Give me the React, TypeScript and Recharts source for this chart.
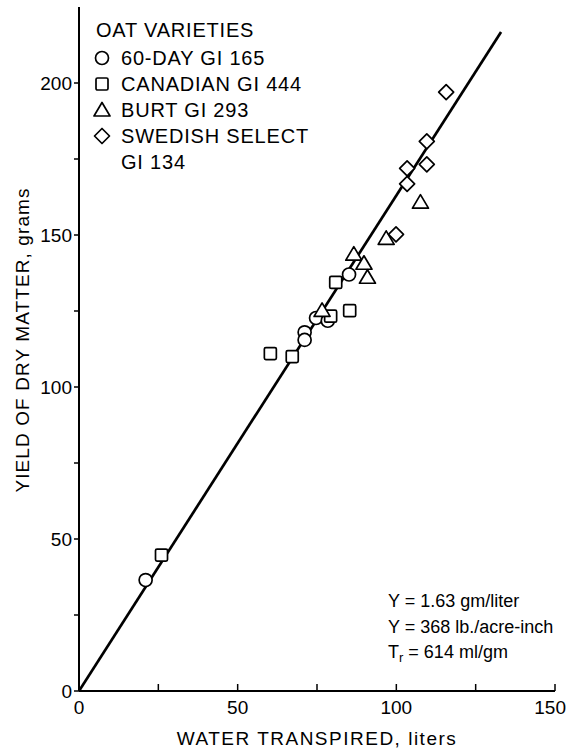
import React from 'react';
import { ScatterChart, Scatter, XAxis, YAxis, Legend } from 'recharts';

// ---- data ----
const xTicks = [0, 25, 50, 75, 100, 125, 150];
const xTickLabels = [0, 50, 100, 150];
const yTicks = [0, 25, 50, 75, 100, 125, 150, 175, 200];
const yTickLabels = [0, 50, 100, 150, 200];

const day60X = [21.0, 71.1, 71.1, 74.7, 78.4, 85.1];
const day60Y = [36.5, 118.0, 115.5, 122.7, 121.8, 137.0];

const canadianX = [26.0, 60.3, 67.2, 79.3, 80.9, 85.3];
const canadianY = [44.7, 111.0, 110.0, 123.3, 134.4, 125.1];

const burtX = [86.6, 89.8, 90.9, 76.6, 96.8, 107.6];
const burtY = [143.7, 140.7, 136.1, 125.2, 148.9, 160.8];

const swedishX = [115.7, 109.6, 109.6, 103.4, 103.4, 99.9];
const swedishY = [197.0, 180.8, 173.2, 171.9, 166.8, 150.2];

const fitX = [0, 133];
const fitSlope = 1.63;

const legendTitle = 'OAT VARIETIES';
const seriesNames = ['60-DAY GI 165', 'CANADIAN GI 444', 'BURT GI 293', 'SWEDISH SELECT'];
const seriesNameExtra = 'GI 134';

const zip = (xs: number[], ys: number[]) => xs.map((x, i) => ({ x, y: ys[i] }));
const day60 = zip(day60X, day60Y);
const canadian = zip(canadianX, canadianY);
const burt = zip(burtX, burtY);
const swedish = zip(swedishX, swedishY);
const fitLine = fitX.map((x) => ({ x, y: x * fitSlope }));

const FONT = '"Liberation Sans", Arial, Helvetica, sans-serif';
const SW = 1.7;

// ---- shapes ----
const CircleShape = (p: any) => (
  <circle cx={p.cx} cy={p.cy} r={6.5} fill="#fff" stroke="#000" strokeWidth={SW} />
);
const SquareShape = (p: any) => (
  <rect x={p.cx - 6} y={p.cy - 6} width={12} height={12} rx={1.5} fill="#fff" stroke="#000" strokeWidth={SW} />
);
const TriangleShape = (p: any) => (
  <polygon
    points={`${p.cx},${p.cy - 7.5} ${p.cx + 8},${p.cy + 6} ${p.cx - 8},${p.cy + 6}`}
    fill="#fff"
    stroke="#000"
    strokeWidth={SW}
    strokeLinejoin="round"
  />
);
const DiamondShape = (p: any) => (
  <polygon
    points={`${p.cx},${p.cy - 7.5} ${p.cx + 7.5},${p.cy} ${p.cx},${p.cy + 7.5} ${p.cx - 7.5},${p.cy}`}
    fill="#fff"
    stroke="#000"
    strokeWidth={SW}
    strokeLinejoin="round"
  />
);
const NoShape = () => <g />;

// ---- ticks ----
const BottomTick = (p: any) => {
  const v = p.payload.value;
  const last = v === xTicks[xTicks.length - 1];
  return (
    <g>
      <line x1={p.x} x2={p.x} y1={p.y} y2={p.y - 7} stroke="#000" strokeWidth={1.5} />
      {xTickLabels.includes(v) && (
        <text
          x={last ? p.x + 11 : p.x}
          y={p.y + 23}
          textAnchor={last ? 'end' : 'middle'}
          fontSize={19}
          fontFamily={FONT}
          fill="#000"
        >
          {v}
        </text>
      )}
    </g>
  );
};
const TopTick = (p: any) => (
  <line x1={p.x} x2={p.x} y1={p.y} y2={p.y + 7} stroke="#000" strokeWidth={1.5} />
);
const LeftTick = (p: any) => {
  const v = p.payload.value;
  return (
    <g>
      <line x1={p.x - 5} x2={p.x} y1={p.y} y2={p.y} stroke="#000" strokeWidth={1.5} />
      {yTickLabels.includes(v) && (
        <text x={p.x - 7} y={p.y + 7} textAnchor="end" fontSize={19} fontFamily={FONT} fill="#000">
          {v}
        </text>
      )}
    </g>
  );
};
const RightTick = (p: any) => (
  <line x1={p.x - 7} x2={p.x} y1={p.y} y2={p.y} stroke="#000" strokeWidth={1.5} />
);

const legendSymbols = [
  <circle cx={8} cy={9} r={6.5} fill="#fff" stroke="#000" strokeWidth={SW} />,
  <rect x={2} y={3} width={12} height={12} rx={1.5} fill="#fff" stroke="#000" strokeWidth={SW} />,
  <polygon points="8,1.5 16,15 0,15" fill="#fff" stroke="#000" strokeWidth={SW} strokeLinejoin="round" />,
  <polygon points="8,1.5 15.5,9 8,16.5 0.5,9" fill="#fff" stroke="#000" strokeWidth={SW} strokeLinejoin="round" />,
];

const LegendContent = () => (
  <div style={{ fontFamily: FONT, fontSize: 20, lineHeight: '26px', color: '#000', letterSpacing: 0.8, whiteSpace: 'nowrap' }}>
    <div style={{ marginLeft: 2, marginBottom: 2 }}>{legendTitle}</div>
    {seriesNames.map((n, i) => (
      <div key={n} style={{ display: 'flex', alignItems: 'center', height: 26 }}>
        <svg width={18} height={18} style={{ marginRight: 9, overflow: 'visible' }}>
          {legendSymbols[i]}
        </svg>
        <span>{n}</span>
      </div>
    ))}
    <div style={{ marginLeft: 27 }}>{seriesNameExtra}</div>
  </div>
);

const YTitle = (p: any) => {
  const vb = p.viewBox;
  const cx = 22;
  const cy = vb.y + vb.height / 2 - 9;
  return (
    <text
      x={cx}
      y={cy}
      transform={`rotate(-90 ${cx} ${cy})`}
      textAnchor="middle"
      dominantBaseline="central"
      fontSize={19}
      fontFamily={FONT}
      letterSpacing={1.1}
      fill="#000"
    >
      YIELD OF DRY MATTER, grams
    </text>
  );
};

const XTitle = (p: any) => {
  const vb = p.viewBox;
  return (
    <text
      x={vb.x + vb.width / 2}
      y={745}
      textAnchor="middle"
      fontSize={19}
      fontFamily={FONT}
      letterSpacing={1.5}
      fill="#000"
    >
      WATER TRANSPIRED, liters
    </text>
  );
};

export default function App() {
  return (
    <div style={{ position: 'absolute', left: 0, top: 0, width: 567, height: 752, background: '#fff' }}>
      <ScatterChart width={567} height={752} margin={{ top: 7, right: 12, bottom: 0, left: 0 }}>
        <XAxis
          xAxisId="b"
          type="number"
          dataKey="x"
          domain={[0, 150]}
          ticks={xTicks}
          interval={0}
          height={61}
          tickSize={0}
          tickMargin={0}
          tickLine={false}
          tick={<BottomTick />}
          axisLine={{ stroke: '#000', strokeWidth: 2 }}
          allowDataOverflow
          label={{ content: <XTitle /> }}
        />
        <XAxis
          xAxisId="t"
          orientation="top"
          type="number"
          dataKey="x"
          domain={[0, 150]}
          ticks={xTicks}
          interval={0}
          height={0}
          tickSize={0}
          tickMargin={0}
          tickLine={false}
          tick={<TopTick />}
          axisLine={{ stroke: '#000', strokeWidth: 2 }}
          allowDataOverflow
        />
        <YAxis
          yAxisId="l"
          type="number"
          dataKey="y"
          domain={[0, 225]}
          ticks={yTicks}
          interval={0}
          width={79}
          tickSize={0}
          tickMargin={0}
          tickLine={false}
          tick={<LeftTick />}
          axisLine={{ stroke: '#000', strokeWidth: 2 }}
          allowDataOverflow
          label={{ content: <YTitle /> }}
        />
        <YAxis
          yAxisId="r"
          orientation="right"
          type="number"
          dataKey="y"
          domain={[0, 225]}
          ticks={yTicks}
          interval={0}
          width={0}
          tickSize={0}
          tickMargin={0}
          tickLine={false}
          tick={<RightTick />}
          axisLine={{ stroke: '#000', strokeWidth: 2 }}
          allowDataOverflow
        />
        <Scatter
          xAxisId="b"
          yAxisId="l"
          data={fitLine}
          line={{ stroke: '#000', strokeWidth: 2.7 }}
          lineType="joint"
          shape={<NoShape />}
          isAnimationActive={false}
          legendType="none"
        />
        <Scatter xAxisId="t" yAxisId="r" data={[]} isAnimationActive={false} legendType="none" />
        <Scatter xAxisId="b" yAxisId="l" name={seriesNames[0]} data={day60} shape={<CircleShape />} isAnimationActive={false} />
        <Scatter xAxisId="b" yAxisId="l" name={seriesNames[1]} data={canadian} shape={<SquareShape />} isAnimationActive={false} />
        <Scatter xAxisId="b" yAxisId="l" name={seriesNames[2]} data={burt} shape={<TriangleShape />} isAnimationActive={false} />
        <Scatter xAxisId="b" yAxisId="l" name={seriesNames[3]} data={swedish} shape={<DiamondShape />} isAnimationActive={false} />
        <Legend
          layout="vertical"
          align="center"
          verticalAlign="middle"
          content={<LegendContent />}
          wrapperStyle={{ left: 94, top: 17, width: 'auto', height: 'auto' }}
        />
      </ScatterChart>
      <div
        style={{
          position: 'absolute',
          left: 388,
          top: 589,
          fontFamily: FONT,
          fontSize: 18,
          lineHeight: '25.5px',
          color: '#000',
          whiteSpace: 'nowrap',
        }}
      >
        <div>Y = 1.63 gm/liter</div>
        <div>Y = 368 lb./acre-inch</div>
        <div>
          T<sub style={{ fontSize: 13, verticalAlign: '-4px', lineHeight: 0 }}>r</sub> = 614 ml/gm
        </div>
      </div>
    </div>
  );
}
